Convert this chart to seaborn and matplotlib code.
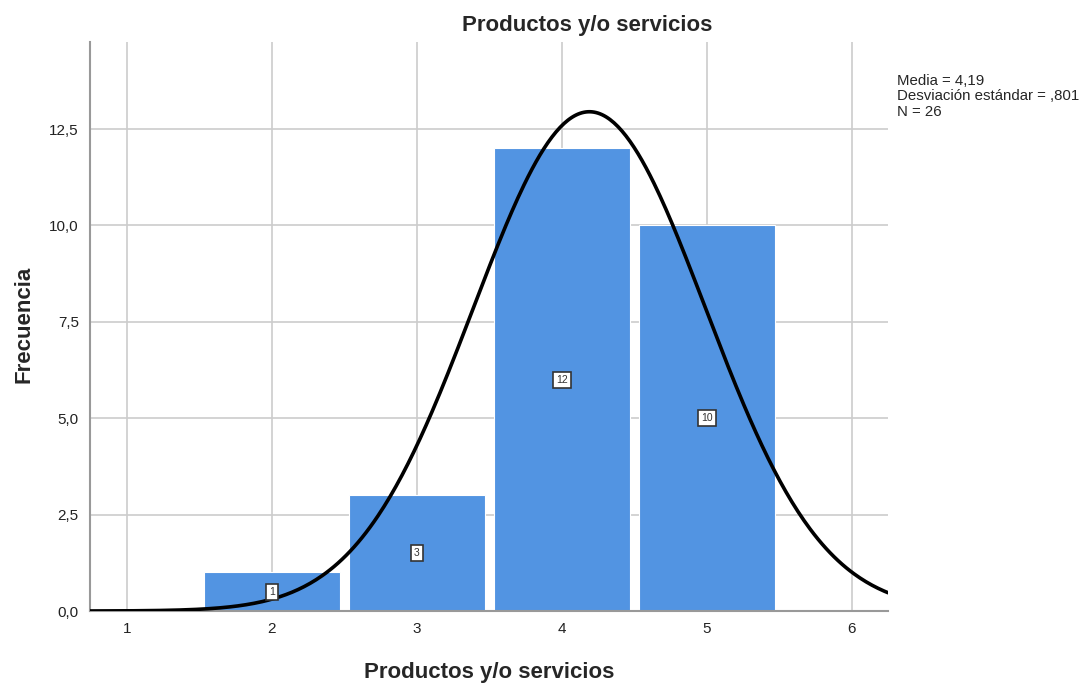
import numpy as np
import pandas as pd
import matplotlib
matplotlib.use("Agg")
import matplotlib.pyplot as plt
import seaborn as sns

# Frequencies of each response value
valores = [2, 3, 4, 5]
frecuencias = [1, 3, 12, 10]
media = 4.19
desv = 0.801
n_total = 26
x_ticks = [1, 2, 3, 4, 5, 6]
y_ticks = [0.0, 2.5, 5.0, 7.5, 10.0, 12.5]

sns.set_theme(style="white")
plt.rcParams["font.family"] = ["Liberation Sans", "DejaVu Sans"]

fig = plt.figure(figsize=(10.88, 6.84), dpi=100)
ax = fig.add_axes([0.0827, 0.1067, 0.7335, 0.832])

df = pd.DataFrame({"valor": valores, "frecuencia": frecuencias})
sns.barplot(data=df, x="valor", y="frecuencia", native_scale=True, width=0.94,
            color="#5294E2", saturation=1, edgecolor="white", linewidth=0.8,
            ax=ax, zorder=2)

# Fitted normal curve scaled to the counts (bin width 1)
xs = np.linspace(0.745, 6.25, 400)
ys = n_total * 1.0 / (desv * np.sqrt(2 * np.pi)) * np.exp(-0.5 * ((xs - media) / desv) ** 2)
sns.lineplot(x=xs, y=ys, color="black", linewidth=2.6, ax=ax, zorder=4)

# Count labels in the middle of each bar
for v, f in zip(valores, frecuencias):
    ax.text(v, f / 2, str(f), ha="center", va="center", fontsize=7.5, color="#333333",
            bbox=dict(boxstyle="square,pad=0.3", fc="white", ec="#333333", lw=1.2),
            zorder=5)

ax.set_xlim(0.745, 6.25)
ax.set_ylim(0, 14.76)
ax.set_xticks(x_ticks)
ax.set_xticklabels([str(t) for t in x_ticks])
ax.set_yticks(y_ticks)
ax.set_yticklabels([f"{t:.1f}".replace(".", ",") for t in y_ticks])
ax.tick_params(axis="both", labelsize=11, colors="#222222", length=0, pad=8)

ax.grid(True, color="#cccccc", linewidth=1.2, zorder=0)
ax.set_axisbelow(True)
for side in ["top", "right"]:
    ax.spines[side].set_visible(False)
for side in ["left", "bottom"]:
    ax.spines[side].set_color("#999999")
    ax.spines[side].set_linewidth(1.5)

ax.set_xlabel("Productos y/o servicios", fontsize=16, fontweight="bold")
ax.set_ylabel("Frecuencia", fontsize=16, fontweight="bold")
ax.xaxis.set_label_coords(0.5, -0.09)
ax.yaxis.set_label_coords(-0.07, 0.503)

fig.text(0.54, 0.962, "Productos y/o servicios", ha="center", va="center",
         fontsize=16, fontweight="bold")
fig.text(0.824, 0.892, f"Media = 4,19\nDesviación estándar = ,801\nN = {n_total}",
         ha="left", va="top", fontsize=10.8, linespacing=1.12)

fig.savefig("out.png", dpi=100)
